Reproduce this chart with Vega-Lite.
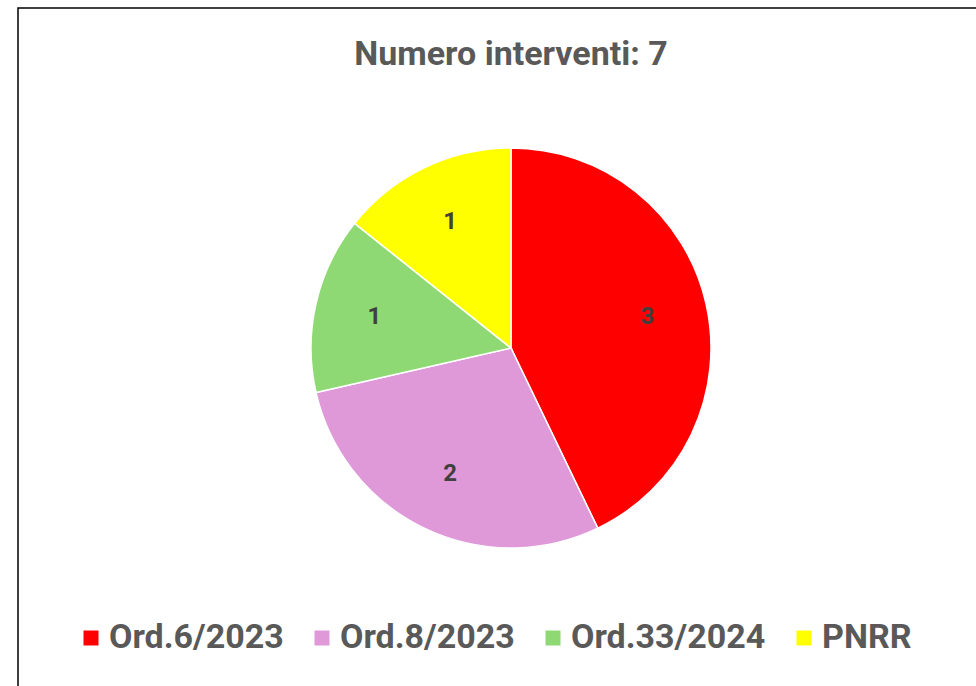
{
  "$schema": "https://vega.github.io/schema/vega-lite/v6.json",
  "width": 986,
  "height": 680,
  "autosize": {"type": "none"},
  "padding": {"left": 18, "top": 8, "right": 0, "bottom": 0},
  "background": "white",
  "view": {"stroke": "#000000", "strokeWidth": 1.5},
  "title": {
    "text": "Numero interventi: 7",
    "font": "Roboto",
    "fontSize": 34,
    "fontWeight": "bold",
    "color": "#595959",
    "anchor": "middle",
    "baseline": "alphabetic",
    "offset": -57,
    "dy": 34
  },
  "data": {
    "values": [
      {"categoria": "Ord.6/2023", "interventi": 3, "ordine": 1},
      {"categoria": "Ord.8/2023", "interventi": 2, "ordine": 2},
      {"categoria": "Ord.33/2024", "interventi": 1, "ordine": 3},
      {"categoria": "PNRR", "interventi": 1, "ordine": 4}
    ]
  },
  "encoding": {
    "theta": {"field": "interventi", "type": "quantitative", "stack": true},
    "order": {"field": "ordine", "type": "quantitative"}
  },
  "layer": [
    {
      "mark": {"type": "arc", "outerRadius": 200, "stroke": "white", "strokeWidth": 1.5},
      "encoding": {
        "color": {
          "field": "categoria",
          "type": "nominal",
          "scale": {
            "domain": ["Ord.6/2023", "Ord.8/2023", "Ord.33/2024", "PNRR"],
            "range": ["#FF0000", "#DF99D9", "#8ED973", "#FFFF00"]
          },
          "legend": {
            "title": null,
            "orient": "none",
            "direction": "horizontal",
            "legendX": 56,
            "legendY": 613,
            "symbolType": "square",
            "symbolSize": 225,
            "symbolStrokeWidth": 0,
            "symbolOpacity": 1,
            "labelFont": "Roboto",
            "labelFontSize": 34,
            "labelFontWeight": "bold",
            "labelColor": "#595959",
            "labelOffset": 1,
            "columnPadding": 21,
            "labelLimit": 400
          }
        }
      }
    },
    {
      "mark": {"type": "text", "radius": 140, "font": "Roboto", "fontSize": 24, "fontWeight": "bold", "fill": "#404040"},
      "encoding": {"text": {"field": "interventi", "type": "quantitative"}}
    }
  ]
}
